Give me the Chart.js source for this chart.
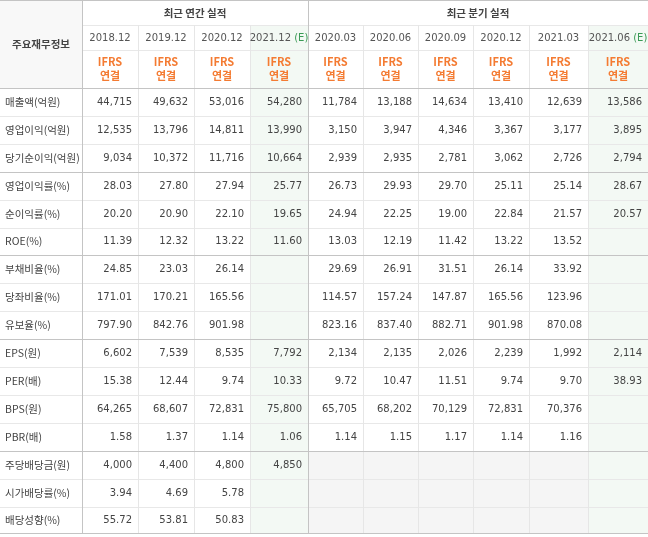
<!DOCTYPE html>
<html><head><meta charset="utf-8">
<script src="https://cdn.jsdelivr.net/npm/chart.js@4"></script>
<style>html,body{margin:0;padding:0;background:#fff}#w{width:648px;height:537px}</style>
</head><body><div id="w"><canvas id="c"></canvas></div>
<script>
const groupTitles = ['최근 연간 실적', '최근 분기 실적'];
const periods = ['2018.12','2019.12','2020.12','2021.12','2020.03','2020.06','2020.09','2020.12','2021.03','2021.06'];
const estimated = [false,false,false,true,false,false,false,false,false,true];
const rowLabels = ['매출액(억원)','영업이익(억원)','당기순이익(억원)','영업이익률(%)','순이익률(%)','ROE(%)','부채비율(%)','당좌비율(%)','유보율(%)','EPS(원)','PER(배)','BPS(원)','PBR(배)','주당배당금(원)','시가배당률(%)','배당성향(%)'];
const v2018_12 = ['44,715','12,535','9,034','28.03','20.20','11.39','24.85','171.01','797.90','6,602','15.38','64,265','1.58','4,000','3.94','55.72'];
const v2019_12 = ['49,632','13,796','10,372','27.80','20.90','12.32','23.03','170.21','842.76','7,539','12.44','68,607','1.37','4,400','4.69','53.81'];
const v2020_12a = ['53,016','14,811','11,716','27.94','22.10','13.22','26.14','165.56','901.98','8,535','9.74','72,831','1.14','4,800','5.78','50.83'];
const v2021_12 = ['54,280','13,990','10,664','25.77','19.65','11.60','','','','7,792','10.33','75,800','1.06','4,850','',''];
const v2020_03 = ['11,784','3,150','2,939','26.73','24.94','13.03','29.69','114.57','823.16','2,134','9.72','65,705','1.14','','',''];
const v2020_06 = ['13,188','3,947','2,935','29.93','22.25','12.19','26.91','157.24','837.40','2,135','10.47','68,202','1.15','','',''];
const v2020_09 = ['14,634','4,346','2,781','29.70','19.00','11.42','31.51','147.87','882.71','2,026','11.51','70,129','1.17','','',''];
const v2020_12q = ['13,410','3,367','3,062','25.11','22.84','13.22','26.14','165.56','901.98','2,239','9.74','72,831','1.14','','',''];
const v2021_03 = ['12,639','3,177','2,726','25.14','21.57','13.52','33.92','123.96','870.08','1,992','9.70','70,376','1.16','','',''];
const v2021_06 = ['13,586','3,895','2,794','28.67','20.57','','','','','2,114','38.93','','','','',''];
const columns = [v2018_12,v2019_12,v2020_12a,v2021_12,v2020_03,v2020_06,v2020_09,v2020_12q,v2021_03,v2021_06];

const colEdges = [0,82,138,194,250,308,363,418,473,529,588,648];
const rowH = 27.9;
const groupEnds = [3,6,9,13];
const KR = '"Noto Sans CJK KR", sans-serif';
const NUM = '"DejaVu Sans", sans-serif';

const tablePlugin = {
  id:'table',
  beforeDatasetsDraw(chart){
    const {ctx, scales:{x,y}} = chart;
    const X = v=>Math.round(x.getPixelForValue(v));
    const Y = v=>Math.round(y.getPixelForValue(v));
    const rowTop = i=>88+i*rowH;
    const nR = rowLabels.length, H = rowTop(nR);
    ctx.save();
    ctx.fillStyle='#f5f5f5';
    ctx.fillRect(X(colEdges[5]),Y(rowTop(13)),X(colEdges[10])-X(colEdges[5]),Y(H)-Y(rowTop(13)));
    estimated.forEach((e,i)=>{ if(e){ ctx.fillStyle='#f3f9f4';
      ctx.fillRect(X(colEdges[i+1]),Y(25),X(colEdges[i+2])-X(colEdges[i+1]),Y(H)-Y(25)); }});
    ctx.fillStyle='#f8f8f8'; ctx.fillRect(0,0,X(82),Y(88));
    const hl=(yy,x0,x1,c)=>{ctx.strokeStyle=c;ctx.lineWidth=1;ctx.beginPath();ctx.moveTo(X(x0),Y(yy)+0.5);ctx.lineTo(X(x1),Y(yy)+0.5);ctx.stroke();};
    const vl=(xx,y0,y1,c)=>{ctx.strokeStyle=c;ctx.lineWidth=1;ctx.beginPath();ctx.moveTo(X(xx)+0.5,Y(y0));ctx.lineTo(X(xx)+0.5,Y(y1));ctx.stroke();};
    for(let i=1;i<nR;i++) if(!groupEnds.includes(i)) hl(rowTop(i),0,648,'#e8e8e8');
    hl(25,82,648,'#e8e8e8'); hl(50,82,648,'#e8e8e8');
    for(let c=2;c<colEdges.length-1;c++) if(c!==5) vl(colEdges[c],25,H,'#e6e6e6');
    groupEnds.forEach(g=>hl(rowTop(g),0,648,'#c4c4c4'));
    hl(88,0,648,'#c4c4c4'); hl(0,0,648,'#c4c4c4'); hl(H-1,0,648,'#c4c4c4');
    vl(82,0,H,'#c4c4c4'); vl(308,0,H,'#c4c4c4');
    ctx.textBaseline='middle'; ctx.textAlign='center';
    ctx.fillStyle='#444'; ctx.font='bold 10.5px '+KR;
    ctx.fillText(groupTitles[0],(X(82)+X(308))/2,Y(13));
    ctx.fillText(groupTitles[1],(X(308)+X(648))/2,Y(13));
    ctx.fillText('주요재무정보',X(41),Y(44));
    periods.forEach((p,i)=>{
      const cx=(X(colEdges[i+1])+X(colEdges[i+2]))/2;
      ctx.font='10px '+NUM;
      if(estimated[i]){
        const s=p+' ', w1=ctx.measureText(s).width, w2=ctx.measureText('(E)').width, st=cx-(w1+w2)/2;
        ctx.textAlign='left'; ctx.fillStyle='#555'; ctx.fillText(s,st,Y(38));
        ctx.fillStyle='#3a9a55'; ctx.fillText('(E)',st+w1,Y(38)); ctx.textAlign='center';
      } else { ctx.fillStyle='#555'; ctx.fillText(p,cx,Y(38)); }
      ctx.fillStyle='#f47b32'; ctx.font='bold 11px '+KR;
      ctx.fillText('IFRS',cx,Y(62)); ctx.fillText('연결',cx,Y(76));
    });
    rowLabels.forEach((l,r)=>{
      const cy=Y(rowTop(r)+rowH/2);
      ctx.textAlign='left'; ctx.fillStyle='#444'; ctx.font='10.5px '+KR;
      ctx.fillText(l,X(5),cy);
      ctx.textAlign='right'; ctx.font='10px '+NUM; ctx.fillStyle='#444';
      columns.forEach((col,c)=>{ if(col[r]) ctx.fillText(col[r],X(colEdges[c+2])-6,cy); });
    });
    ctx.restore();
  }
};
new Chart(document.getElementById('c'),{
  type:'scatter',
  data:{datasets:[{data:[]}]},
  options:{responsive:true,maintainAspectRatio:false,animation:false,
    layout:{padding:0},
    plugins:{legend:{display:false},tooltip:{enabled:false}},
    scales:{x:{type:'linear',min:0,max:648,display:false},
            y:{type:'linear',min:0,max:537,reverse:true,display:false}}},
  plugins:[tablePlugin]
});
</script></body></html>
